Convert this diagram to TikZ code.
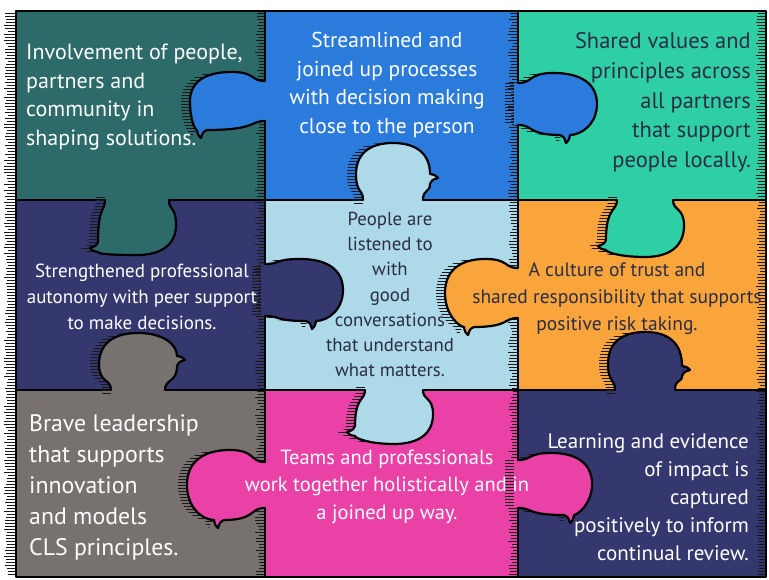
\documentclass[tikz,border=0pt]{standalone}
\usepackage{fontspec}
\setmainfont{PT Sans}
\definecolor{cteal}{HTML}{2C6B6A}
\definecolor{cblue}{HTML}{2B7BDC}
\definecolor{cgreen}{HTML}{2ECFA5}
\definecolor{cnavy}{HTML}{35386F}
\definecolor{clight}{HTML}{ADD9E8}
\definecolor{corange}{HTML}{F9A53B}
\definecolor{cgrey}{HTML}{77716F}
\definecolor{cpink}{HTML}{EA41A7}
\definecolor{txtdark}{HTML}{2B2D45}
\tikzset{
  puzline/.style={line width=2.2pt, line join=round, line cap=round, draw=black},
  hatch/.style={line width=0.6pt, draw=black!90},
  txtw/.style={text=white, inner sep=0pt},
  txtd/.style={text=txtdark, inner sep=0pt}
}
\newcommand\puzknob[9]{%
  \pgfmathsetmacro\kn{#6}\pgfmathsetmacro\kw{#7}\pgfmathsetmacro\kD{#8}\pgfmathsetmacro\kt{#9}%
  \pgfmathsetmacro\kc{max(0.8*\kD,\kt+8)}%
  \pgfmathsetmacro\kx{#1-9}%
  \pgfmathsetmacro\kxl{#1-100}\pgfmathsetmacro\kxr{#1+100}%
  \begin{scope}[shift={(\kx,#2)},rotate=#3,yscale=#4]
    \clip (-4,-\kn) -- (0,-\kn) .. controls ({0.2*\kD},-\kn) and ({0.12*\kD},-\kw) .. ({0.45*\kD},-\kw)
      .. controls ({0.8*\kD},-\kw) and (\kD,{-0.65*\kw}) .. (\kD,0)
      .. controls (\kD,{0.65*\kw}) and (\kc,\kw) .. ({\kt+6},\kw)
      .. controls ({\kt+5},{\kw+5}) .. ({\kt+2},{\kw+8})
      .. controls ({\kt},{\kw+2}) .. ({\kt-4},\kw)
      .. controls ({0.12*\kD},\kw) and ({0.2*\kD},\kn) .. (0,\kn) -- (-4,\kn) -- cycle;
    \begin{scope}[yscale=#4,rotate=-#3]
      \foreach \hy in {-96,-93,...,96} {\draw[hatch] (-100,\hy) -- (100,\hy);}
    \end{scope}
  \end{scope}
  \begin{scope}[shift={(#1,#2)},rotate=#3,yscale=#4]
    \fill[#5] (-4,-\kn) -- (0,-\kn) .. controls ({0.2*\kD},-\kn) and ({0.12*\kD},-\kw) .. ({0.45*\kD},-\kw)
      .. controls ({0.8*\kD},-\kw) and (\kD,{-0.65*\kw}) .. (\kD,0)
      .. controls (\kD,{0.65*\kw}) and (\kc,\kw) .. ({\kt+6},\kw)
      .. controls ({\kt+5},{\kw+5}) .. ({\kt+2},{\kw+8})
      .. controls ({\kt},{\kw+2}) .. ({\kt-4},\kw)
      .. controls ({0.12*\kD},\kw) and ({0.2*\kD},\kn) .. (0,\kn) -- (-4,\kn) -- cycle;
    \draw[puzline] (0,-\kn) .. controls ({0.2*\kD},-\kn) and ({0.12*\kD},-\kw) .. ({0.45*\kD},-\kw)
      .. controls ({0.8*\kD},-\kw) and (\kD,{-0.65*\kw}) .. (\kD,0)
      .. controls (\kD,{0.65*\kw}) and (\kc,\kw) .. ({\kt+6},\kw)
      .. controls ({\kt+5},{\kw+5}) .. ({\kt+2},{\kw+8})
      .. controls ({\kt},{\kw+2}) .. ({\kt-4},\kw)
      .. controls ({0.12*\kD},\kw) and ({0.2*\kD},\kn) .. (0,\kn);
  \end{scope}}
\begin{document}
\begin{tikzpicture}[x=1pt,y=1pt]
\useasboundingbox (0,0) rectangle (769,580);
% piece fills
\fill[cteal]  (16,380) rectangle (265,569);
\fill[cblue]  (265,380) rectangle (518,569);
\fill[cgreen] (518,380) rectangle (766,569);
\fill[cnavy]  (16,190) rectangle (265,380);
\fill[clight] (265,190) rectangle (518,380);
\fill[corange] (518,190) rectangle (766,380);
\fill[cgrey]  (16,3) rectangle (265,190);
\fill[cpink]  (265,3) rectangle (518,190);
\fill[cnavy]  (518,3) rectangle (766,190);
% hatching
\foreach \t in {13,16,...,576} {
  \pgfmathsetmacro\hl{7+4*rnd}
  \draw[hatch] ({15-\hl},{580-\t}) -- (15,{580-\t});
  \pgfmathsetmacro\hr{5+4*rnd}
  \draw[hatch] ({765-\hr},{580-\t}) -- (765,{580-\t});
  \pgfmathsetmacro\ha{4+5*rnd}
  \draw[hatch] ({264-\ha},{580-\t}) -- (264,{580-\t});
  \pgfmathsetmacro\hb{4+5*rnd}
  \draw[hatch] ({517-\hb},{580-\t}) -- (517,{580-\t});
}
% grid
\draw[puzline] (16,3) rectangle (766,569);
\draw[puzline] (265,3) -- (265,569);
\draw[puzline] (518,3) -- (518,569);
\draw[puzline] (16,380) -- (766,380);
\draw[puzline] (16,190) -- (766,190);
% knobs: X, Y, angle, side, colour, neck, width, depth, tail
\puzknob{265}{479}{180}{1}{cblue}{20}{29}{75}{62}
\puzknob{518}{476}{0}{-1}{cblue}{21}{31}{79}{46}
\puzknob{393}{380}{90}{-1}{clight}{30}{37}{57}{20}
\puzknob{137}{380}{270}{-1}{cteal}{32}{39}{55}{46}
\puzknob{645}{380}{270}{-1}{cgreen}{28}{39}{57}{44}
\puzknob{518}{287}{180}{1}{corange}{25}{34}{73}{48}
\puzknob{265}{290}{0}{-1}{cnavy}{26}{31}{78}{45}
\puzknob{138}{190}{90}{-1}{cgrey}{27}{39}{57}{28}
\puzknob{394}{190}{270}{-1}{clight}{29}{39}{54}{40}
\puzknob{265}{95}{180}{1}{cpink}{23}{35}{78}{45}
\puzknob{518}{96}{0}{-1}{cpink}{24}{31}{74}{50}
\puzknob{645}{190}{90}{-1}{cnavy}{30}{37}{58}{18}
% texts
\node[txtw, anchor=west, align=left, font=\fontsize{22}{28.5}\selectfont] (t1) at (26,483)
  {Involvement of people,\\partners and\\community in\\shaping solutions.};
\node[txtw, align=center, font=\fontsize{21.5}{28.7}\selectfont] (t2) at (387,495)
  {Streamlined and\\joined up processes\\with decision making\\close to the person};
\node[txtd, anchor=east, align=right, font=\fontsize{22.5}{29.8}\selectfont] (t3) at (751,477.5)
  {Shared values and\\principles across\\all partners\\that support\\people locally.};
\node[txtw, align=center, font=\fontsize{19}{26}\selectfont] (t4) at (142,283)
  {Strengthened professional\\autonomy with peer support\\to make decisions.};
\node[txtd, align=center, font=\fontsize{18.8}{25.3}\selectfont] (t5) at (390,285.5)
  {People are\\listened to\\with\\good\\conversations\\that understand\\what matters.};
\node[txtd, align=center, font=\fontsize{19.5}{27}\selectfont] (t6) at (617,281.5)
  {A culture of trust and\\shared responsibility that supports\\positive risk taking.};
\node[txtw, anchor=west, align=left, font=\fontsize{23.8}{31}\selectfont] (t7) at (29,92.5)
  {Brave leadership\\that supports\\innovation\\and models\\CLS principles.};
\node[txtw, align=center, font=\fontsize{20.5}{27.5}\selectfont] (t8) at (387,93.5)
  {Teams and professionals\\work together holistically and in\\a joined up way.};
\node[txtw, anchor=east, align=right, font=\fontsize{21}{28}\selectfont] (t9) at (749,83)
  {Learning and evidence\\of impact is\\captured\\positively to inform\\continual review.};
\end{tikzpicture}
\end{document}
